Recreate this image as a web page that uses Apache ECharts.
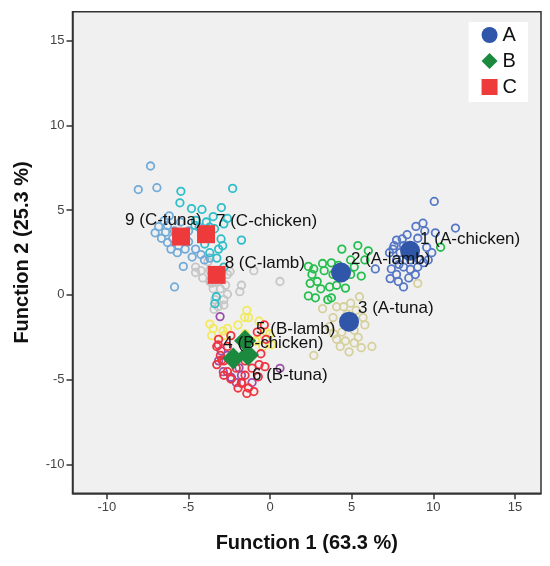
<!DOCTYPE html>
<html>
<head>
<meta charset="utf-8">
<script src="https://cdn.jsdelivr.net/npm/echarts@6/dist/echarts.min.js"></script>
<style>
  html, body { margin: 0; padding: 0; background: #fff; }
  #chart { width: 550px; height: 566px; }
</style>
</head>
<body>
<div id="chart"></div>
<script>
// axis ticks (both discriminant functions)
const functionTicks = [-10, -5, 0, 5, 10, 15];

// group centroids, in group order 1..9
const groupLabels = ['1 (A-chicken)', '2 (A-lamb)', '3 (A-tuna)',
  '4 (B-chicken)', '5 (B-lamb)', '6 (B-tuna)',
  '7 (C-chicken)', '8 (C-lamb)', '9 (C-tuna)'];
const centroids = [[8.58, 2.60], [4.35, 1.32], [4.84, -1.58],
  [-2.25, -3.75], [-1.53, -2.70], [-1.35, -3.55],
  [-3.92, 3.58], [-3.27, 1.18], [-5.45, 3.44]];

// individual cases (function 1, function 2)
const aChickenCases = [[10.06,5.51],[11.36,3.94],[8.94,4.04],[9.37,4.23],[9.48,3.77],[10.13,3.66],[9.91,2.49],[9.69,2.06],
  [9.05,1.64],[8.61,2.06],[8.18,1.64],[7.75,2.06],[7.32,2.49],[7.43,1.53],[7.36,0.96],[7.75,1.21],[8.18,0.47],[7.86,0.79],
  [8.50,1.0],[6.45,1.53],[7.75,3.23],[8.18,2.91],[9.05,3.34],[7.53,2.70],[7.97,2.49],[9.15,2.06],[8.40,3.55],[8.83,2.49],
  [8.9,1.2],[9.4,1.9],[7.9,1.8],[8.1,3.3],[9.6,2.8],[7.6,2.9],[8.6,1.5]];
const aLambCases = [[2.35,1.68],[2.68,1.53],[3.22,1.85],[3.76,1.89],[4.40,2.70],[5.38,2.91],[6.02,2.60],[5.81,2.06],
  [5.59,1.11],[4.94,1.21],[4.62,0.40],[4.08,0.57],[3.65,0.47],[2.89,0.79],[2.46,0.68],[3.11,0.36],[2.35,-0.06],[2.78,-0.17],
  [3.54,-0.28],[3.76,-0.17],[10.45,2.81],[3.32,1.43],[2.57,1.21],[4.94,2.06],[5.16,1.64],[3.86,1.21],[4.19,1.74]];
const aTunaCases = [[5.48,-0.11],[4.94,-0.49],[4.51,-0.70],[4.08,-0.70],[3.22,-0.81],[5.70,-1.34],[5.81,-1.77],[5.16,-2.09],
  [4.40,-2.19],[4.08,-2.62],[4.62,-2.72],[5.16,-2.83],[4.30,-3.04],[5.59,-3.11],[6.24,-3.04],[2.68,-3.57],[9.05,0.68],
  [4.84,-3.36],[3.65,-1.87],[3.86,-1.34],[4.73,-1.13],[5.27,-0.91],[3.9,-2.3],[5.4,-2.5]];
const bChickenCases = [[-3.15,-2.62],[-3.26,-3.04],[-3.04,-3.57],[-2.83,-3.89],[-2.61,-4.53],[-2.40,-4.96],[-1.75,-5.17],
  [-1.32,-5.49],[-0.99,-5.70],[-1.53,-4.74],[-1.10,-4.32],[-0.67,-4.11],[-0.35,-1.77],[-0.24,-2.62],[-0.78,-2.19],[-1.42,-5.81],
  [-2.07,-4.32],[-3.26,-4.11],[-2.83,-4.74],[-1.53,-3.89],[-1.96,-5.49],[-0.56,-3.47],[-2.40,-2.40],[-2.61,-3.04],[-0.31,-4.23],
  [-0.72,-4.83],[-1.73,-5.22],[-3.17,-2.95],[-2.96,-3.84]];
const bLambCases = [[-1.42,-0.91],[-1.32,-1.34],[-3.48,-1.98],[-2.61,-1.98],[-2.83,-2.40],[-1.96,-1.77],[-0.67,-1.55],
  [-0.24,-2.19],[0.09,-2.94],[-0.89,-2.72],[-1.53,-2.30],[-3.58,-2.40],[-0.45,-3.04],[-0.02,-2.30],[-1.75,-2.72],[-1.55,-1.32],
  [-3.69,-1.72],[-2.87,-2.12],[-0.73,-2.63]];
const bTunaCases = [[-3.06,-1.28],[-2.86,-4.53],[-2.40,-4.85],[0.61,-4.33],[-3.15,-3.89],[-1.75,-4.74],[-1.10,-5.17],
  [-2.61,-3.57],[-2.07,-5.17],[-2.35,-4.92],[-3.0,-3.3],[-1.9,-4.3]];
const cChickenCases = [[-5.46,6.11],[-5.52,5.43],[-4.81,5.09],[-4.17,5.04],[-2.98,5.15],[-2.29,6.28],[-1.75,3.23],[-2.61,4.51],
  [-2.83,4.19],[-3.48,4.62],[-4.56,4.40],[-3.9,4.3],[-3.7,4.0],[-4.2,3.8],[-3.4,3.9],[-4.6,4.1],[-3.15,2.70],[-3.69,2.49],
  [-3.26,2.17],[-2.83,1.64],[-3.04,1.21],[-3.38,-0.52],[-3.29,-0.11],[-3.0,3.3],[-2.9,2.9],[-4.0,3.0]];
const cLambCases = [[-4.23,1.43],[-4.12,1.0],[-3.69,1.43],[-3.48,0.36],[-3.04,0.36],[-2.72,0.57],[-2.61,1.21],[-1.75,0.57],
  [-0.99,1.43],[0.61,0.79],[-3.37,-0.28],[-2.83,-0.28],[-2.61,0.04],[-3.43,-0.85],[-2.83,-0.6],[-3.15,0.79],[-3.69,0.79],
  [-4.56,1.32],[-3.80,1.96],[-4.56,1.64],[-1.85,0.19],[-2.45,1.38],[-3.57,0.69],[-3.17,-0.69]];
const cTunaCases = [[-7.32,7.60],[-8.07,6.21],[-6.93,6.32],[-6.17,4.66],[-6.50,4.36],[-6.82,4.02],[-7.04,3.66],[-6.65,3.34],
  [-6.28,3.09],[-6.07,2.70],[-5.68,2.49],[-5.20,2.70],[-4.77,2.23],[-5.31,1.68],[-5.85,0.47],[-4.99,3.13],[-4.56,2.70],
  [-4.23,2.38],[-6.28,4.09],[-5.85,3.77],[-4.99,3.77],[-4.34,3.98],[-5.48,4.30],[-5.96,3.34],[-3.69,2.17],[-4.02,2.06],
  [-5.6,2.9],[-6.4,3.7]];

const caseGroups = [aChickenCases, aLambCases, aTunaCases, bChickenCases, bLambCases,
  bTunaCases, cChickenCases, cLambCases, cTunaCases];

// styling / layout (not data)
const caseColors = ['#5677c6', '#26bf4e', '#d6d09c', '#ef3340', '#f2e95c',
  '#9a50a8', '#2fbec7', '#c6c6c6', '#72aad8'];
const drawOrder = [2, 1, 0, 7, 8, 6, 4, 5, 3];
const labelOffsets = [[10, -11], [10, -13], [9, -13], [-10, -15], [11, -11],
  [4, 20], [10, -13], [8, -12], [-56, -16]];
const font = 'Arial, "Liberation Sans", sans-serif';

const chart = echarts.init(document.getElementById('chart'));

const caseSeries = drawOrder.map(i => ({
  type: 'scatter',
  name: groupLabels[i],
  data: caseGroups[i],
  symbol: 'circle',
  symbolSize: 7.5,
  silent: true,
  z: 2,
  itemStyle: { color: 'transparent', borderColor: caseColors[i], borderWidth: 1.8, opacity: 1 }
}));

function centroidSeries(name, groups, symbol, size, color) {
  return {
    type: 'scatter',
    name: name,
    symbol: symbol,
    symbolSize: size,
    z: 5,
    itemStyle: { color: color, opacity: 1 },
    label: {
      show: true,
      position: 'inside',
      align: 'left',
      verticalAlign: 'middle',
      formatter: '{b}',
      color: '#111',
      fontSize: 17,
      fontFamily: font,
      textBorderWidth: 0
    },
    data: groups.map(i => ({
      name: groupLabels[i],
      value: centroids[i],
      label: { offset: labelOffsets[i] }
    }))
  };
}

const axisCommon = {
  type: 'value',
  splitLine: { show: false },
  axisLine: { show: true, onZero: false, lineStyle: { color: '#333', width: 1.5 } },
  axisTick: { show: true, length: 6, customValues: functionTicks, lineStyle: { color: '#333', width: 1.5 } },
  axisLabel: { customValues: functionTicks, color: '#444', fontSize: 13, fontFamily: font, margin: 8 },
  nameLocation: 'middle',
  nameTextStyle: { fontSize: 20, fontWeight: 'bold', color: '#111', fontFamily: font }
};

chart.setOption({
  animation: false,
  grid: {
    show: true, left: 72.5, top: 11.7, right: 9, bottom: 72.7,
    backgroundColor: '#f0f0f0', borderColor: '#333', borderWidth: 1.5
  },
  legend: {
    data: ['A', 'B', 'C'],
    orient: 'vertical',
    right: 22,
    top: 22,
    backgroundColor: '#fff',
    padding: [3, 11, 5, 13],
    itemGap: 6,
    itemWidth: 16,
    itemHeight: 16,
    textStyle: { fontSize: 20, color: '#111', fontFamily: font }
  },
  xAxis: Object.assign({}, axisCommon, {
    min: -12.1, max: 16.6,
    name: 'Function 1 (63.3 %)', nameGap: 40
  }),
  yAxis: Object.assign({}, axisCommon, {
    min: -11.7, max: 16.7,
    name: 'Function 2 (25.3 %)', nameGap: 40
  }),
  series: caseSeries.concat([
    centroidSeries('A', [0, 1, 2], 'circle', 20, '#2f56a8'),
    centroidSeries('B', [3, 4, 5], 'diamond', 22, '#1b8a3e'),
    centroidSeries('C', [6, 7, 8], 'rect', 18, '#ef3a3c')
  ])
});
</script>
</body>
</html>
